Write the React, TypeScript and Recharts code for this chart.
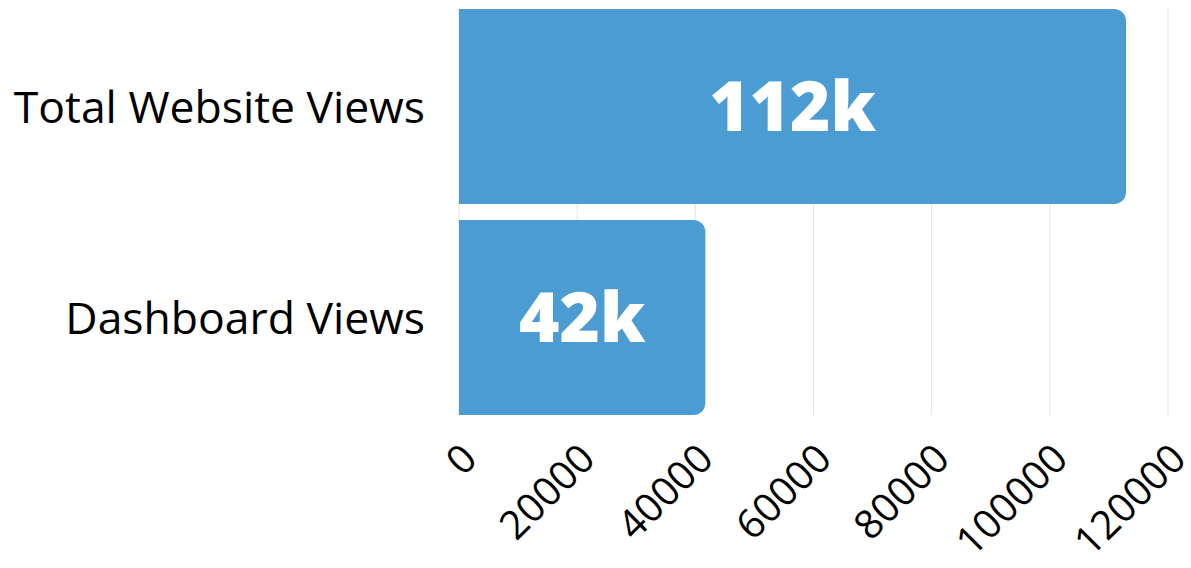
import React from "react";
import { BarChart, Bar, XAxis, YAxis, CartesianGrid, LabelList } from "recharts";

const categories = ["Total Website Views", "Dashboard Views"];
const views = [112900, 41700];
const valueLabels = ["112k", "42k"];
const xTicks = [0, 20000, 40000, 60000, 80000, 100000, 120000];

const data = categories.map((name, i) => ({ name, views: views[i], label: valueLabels[i] }));

const FONT = "'Open Sans', sans-serif";

export default function App() {
  return (
    <div style={{ position: "absolute", left: 0, top: 0, width: 1191, height: 568, background: "#fff" }}>
      <BarChart
        width={1191}
        height={568}
        data={data}
        layout="vertical"
        margin={{ top: 9, right: 23, bottom: 0, left: 0 }}
        barSize={195}
      >
        <CartesianGrid horizontal={false} stroke="#e3e3e3" />
        <XAxis
          type="number"
          domain={[0, 120000]}
          ticks={xTicks}
          interval={0}
          height={153}
          angle={-45}
          textAnchor="end"
          tickLine={false}
          axisLine={false}
          tickMargin={20}
          tick={{ fill: "#000", fontSize: 40, fontFamily: FONT }}
        />
        <YAxis
          type="category"
          dataKey="name"
          width={459}
          tickLine={false}
          axisLine={false}
          tickMargin={28}
          padding={{ top: -8, bottom: -8 }}
          tick={{ fill: "#000", fontSize: 44.5, fontFamily: FONT, dy: 1 }}
        />
        <Bar dataKey="views" fill="#4B9CD3" radius={[0, 12, 12, 0]} isAnimationActive={false}>
          <LabelList
            dataKey="label"
            position="center"
            fill="#fff"
            style={{ fontSize: 69, fontWeight: 800, fontFamily: FONT }}
          />
        </Bar>
      </BarChart>
    </div>
  );
}
